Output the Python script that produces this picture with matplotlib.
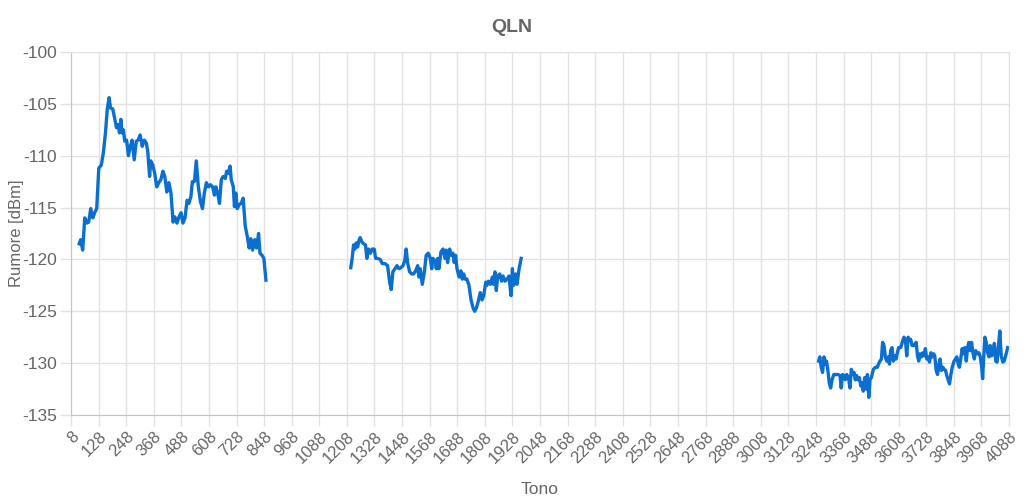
import numpy as np
import matplotlib.pyplot as plt

plt.rcParams['font.family'] = ['Liberation Sans', 'DejaVu Sans']

# QLN data (tone index, noise in dBm)
tones1 = [44, 50, 59, 68, 76, 85, 94, 103, 111, 120, 129, 140, 149, 158, 166, 174, 180,
          190, 199, 206, 213, 219, 225, 230, 236, 242, 250, 258, 266, 274, 283, 292,
          300, 309, 318, 327, 336, 342, 350, 355, 364, 373, 381, 390, 399, 408, 416,
          425, 434, 443, 452, 460, 469, 478, 487, 495, 504, 513, 521, 530, 536, 545,
          553, 562, 571, 580, 588, 597, 606, 615, 624, 632, 638, 646, 654, 662, 670,
          679, 685, 692, 700, 705, 714, 719, 725, 731, 740, 748, 757, 766, 775, 783,
          790, 798, 807, 815, 824, 830, 839, 847, 856]
qln1 = [-118.5, -118.1, -119.1, -116.0, -116.5, -116.4, -115.1, -116.0, -115.5, -115.1,
        -111.2, -110.9, -109.7, -107.8, -105.5, -104.4, -105.4, -105.5, -106.5, -107.3,
        -107.0, -107.8, -106.5, -107.8, -107.5, -108.6, -108.5, -110.0, -109.1, -108.5,
        -110.4, -108.6, -108.5, -108.0, -109.1, -108.5, -108.8, -109.6, -112.0, -110.5,
        -110.9, -111.8, -113.0, -112.6, -112.3, -111.5, -112.0, -113.5, -112.6, -113.6,
        -116.4, -115.9, -116.5, -115.9, -115.5, -116.5, -116.0, -114.3, -114.6, -113.9,
        -112.5, -112.5, -110.5, -113.0, -114.4, -115.1, -113.6, -112.6, -113.0, -112.8,
        -113.0, -113.8, -113.0, -113.6, -114.6, -112.3, -112.0, -112.2, -111.5, -111.7,
        -111.0, -112.3, -113.0, -114.9, -113.6, -115.1, -114.7, -114.6, -114.1, -116.8,
        -117.8, -118.9, -118.0, -119.1, -118.1, -118.9, -117.5, -119.4, -119.6, -119.9,
        -122.0]

tones2 = [1225, 1231, 1237, 1243, 1249, 1255, 1260, 1266, 1273, 1281, 1289, 1295, 1302,
          1310, 1318, 1327, 1333, 1341, 1353, 1362, 1373, 1385, 1394, 1401, 1408, 1417,
          1426, 1434, 1443, 1452, 1460, 1466, 1472, 1481, 1490, 1498, 1507, 1516, 1521,
          1527, 1536, 1545, 1553, 1562, 1571, 1577, 1582, 1591, 1597, 1603, 1608, 1617,
          1626, 1635, 1640, 1646, 1655, 1661, 1669, 1675, 1681, 1687, 1696, 1704, 1710,
          1716, 1722, 1730, 1739, 1748, 1757, 1764, 1771, 1780, 1788, 1796, 1803, 1812,
          1817, 1823, 1832, 1841, 1846, 1852, 1858, 1864, 1873, 1881, 1887, 1896, 1905,
          1913, 1922, 1928, 1933, 1942, 1948, 1957, 1966]
qln2 = [-120.8, -119.9, -118.6, -119.0, -118.4, -118.8, -118.2, -117.9, -118.3, -118.5,
        -118.6, -119.9, -119.0, -119.4, -119.0, -119.0, -119.9, -119.9, -120.0, -120.4,
        -120.4, -120.6, -122.2, -122.9, -121.2, -120.9, -120.6, -120.9, -120.8, -120.6,
        -120.1, -119.0, -120.3, -121.2, -121.4, -121.4, -121.1, -120.6, -121.7, -120.9,
        -122.4, -121.2, -119.6, -119.4, -119.9, -120.9, -119.9, -120.1, -120.9, -119.9,
        -120.9, -119.3, -119.0, -119.9, -119.1, -120.3, -119.0, -119.6, -119.4, -120.3,
        -119.6, -120.9, -121.7, -121.1, -121.9, -121.4, -121.9, -121.9, -122.5, -123.9,
        -124.7, -125.0, -124.7, -124.0, -123.2, -123.9, -123.5, -122.2, -122.5, -122.1,
        -122.4, -121.7, -122.4, -121.2, -123.0, -121.6, -121.4, -122.1, -121.6, -122.1,
        -121.9, -121.6, -123.5, -120.9, -122.5, -121.4, -122.4, -120.9, -119.9]

tones3 = [3260, 3265, 3271, 3277, 3283, 3289, 3294, 3300, 3306, 3312, 3318, 3326, 3335,
          3344, 3353, 3358, 3364, 3370, 3376, 3382, 3390, 3396, 3402, 3408, 3414, 3419,
          3425, 3431, 3437, 3443, 3448, 3454, 3460, 3466, 3472, 3478, 3483, 3489, 3498,
          3507, 3515, 3524, 3533, 3538, 3544, 3550, 3556, 3562, 3568, 3573, 3579, 3585,
          3591, 3597, 3602, 3608, 3617, 3626, 3631, 3637, 3643, 3649, 3655, 3660, 3666,
          3675, 3684, 3690, 3695, 3701, 3707, 3713, 3719, 3724, 3730, 3736, 3742, 3748,
          3754, 3760, 3765, 3771, 3777, 3783, 3788, 3794, 3800, 3806, 3812, 3817, 3823,
          3829, 3835, 3841, 3849, 3855, 3861, 3867, 3872, 3878, 3884, 3890, 3896, 3902,
          3907, 3913, 3919, 3925, 3931, 3937, 3943, 3951, 3957, 3963, 3969, 3973, 3977,
          3983, 3989, 3995, 4001, 4006, 4012, 4018, 4024, 4030, 4036, 4041, 4048, 4054,
          4061, 4067, 4073, 4082]
qln3 = [-129.8, -129.4, -130.4, -130.9, -129.4, -130.1, -129.8, -130.7, -131.9, -132.4,
        -131.6, -131.1, -131.1, -131.1, -131.2, -132.4, -131.1, -131.2, -131.6, -131.1,
        -131.4, -132.4, -130.6, -131.1, -130.9, -131.6, -131.2, -131.6, -131.4, -132.2,
        -131.9, -132.7, -131.4, -132.5, -131.1, -133.3, -131.6, -131.4, -130.6, -130.4,
        -130.4, -129.9, -129.6, -128.0, -128.3, -129.4, -129.8, -129.4, -130.1, -128.8,
        -128.5, -129.8, -129.3, -129.6, -129.0, -128.5, -128.5, -127.8, -127.5, -127.7,
        -129.3, -127.5, -127.8, -127.7, -128.3, -128.3, -128.0, -129.3, -129.8, -129.1,
        -129.4, -129.0, -129.3, -128.6, -129.6, -129.4, -129.9, -129.0, -129.4, -129.1,
        -129.3, -130.7, -131.1, -130.1, -129.6, -130.7, -130.4, -130.6, -130.7, -131.2,
        -131.6, -132.0, -131.1, -130.4, -129.8, -129.6, -129.4, -130.1, -130.4, -129.6,
        -128.6, -129.1, -128.5, -129.8, -128.6, -128.0, -128.8, -128.0, -129.0, -129.6,
        -128.8, -129.1, -129.0, -129.4, -130.4, -131.5, -129.8, -127.5, -128.0, -129.0,
        -129.4, -128.3, -129.3, -129.0, -128.1, -129.8, -129.9, -128.5, -126.9, -129.3,
        -129.9, -129.8, -129.3, -128.5]

x_ticks = list(range(8, 4089, 120))
y_ticks = [-135, -130, -125, -120, -115, -110, -105, -100]

# join segments with gaps
x = tones1 + [np.nan] + tones2 + [np.nan] + tones3
y = qln1 + [np.nan] + qln2 + [np.nan] + qln3

grid_c = '#e2e2e2'
text_c = '#666666'

fig = plt.figure(figsize=(10.24, 4.98), dpi=100)
ax = fig.add_axes([0.0693, 0.1667, 0.9161, 0.7289])

ax.plot(x, y, color='#0a6fd0', linewidth=2.4, solid_joinstyle='round')

ax.set_xlim(8, 4088)
ax.set_ylim(-135, -100)
ax.set_xticks(x_ticks)
ax.set_yticks(y_ticks)
ax.set_xticklabels([str(t) for t in x_ticks], rotation=45, ha='right',
                   rotation_mode='anchor', fontsize=12, color=text_c)
ax.set_yticklabels([str(t) for t in y_ticks], fontsize=12.5, color=text_c)
ax.tick_params(axis='both', color=grid_c, length=8, width=1)
ax.tick_params(axis='y', pad=2)
ax.tick_params(axis='x', pad=2)
ax.grid(True, color=grid_c, linewidth=1)
ax.set_axisbelow(True)
for s in ['top', 'right']:
    ax.spines[s].set_color(grid_c)
for s in ['left', 'bottom']:
    ax.spines[s].set_color('#c4c4c4')

ax.set_xlabel('Tono', fontsize=12.5, color=text_c)
ax.xaxis.set_label_coords(0.5, -0.185)
ax.set_ylabel('Rumore [dBm]', fontsize=12, color=text_c)
ax.yaxis.set_label_coords(-0.05, 0.5)
fig.text(0.5, 1 - 27 / 498, 'QLN', ha='center', va='center',
         fontsize=14, fontweight='bold', color=text_c)

fig.savefig('out.png', dpi=100)
